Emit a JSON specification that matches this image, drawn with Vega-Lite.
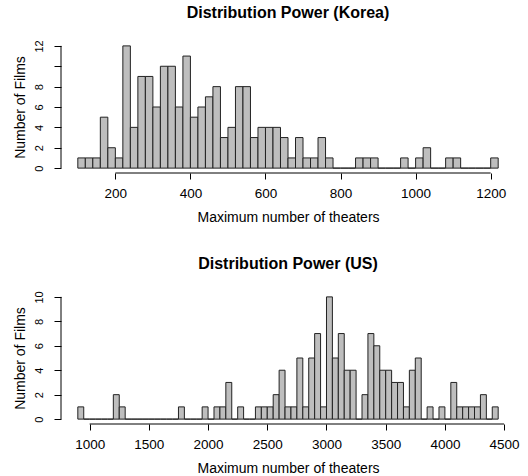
{
  "$schema": "https://vega.github.io/schema/vega-lite/v6.json",
  "padding": {"left": 12, "top": 4, "right": 0, "bottom": 0},
  "bounds": "flush",
  "spacing": 119,
  "background": "white",
  "datasets": {
    "korea": [
      {"bin_start": 100, "bin_end": 120, "count": 1},
      {"bin_start": 120, "bin_end": 140, "count": 1},
      {"bin_start": 140, "bin_end": 160, "count": 1},
      {"bin_start": 160, "bin_end": 180, "count": 5},
      {"bin_start": 180, "bin_end": 200, "count": 2},
      {"bin_start": 200, "bin_end": 220, "count": 1},
      {"bin_start": 220, "bin_end": 240, "count": 12},
      {"bin_start": 240, "bin_end": 260, "count": 4},
      {"bin_start": 260, "bin_end": 280, "count": 9},
      {"bin_start": 280, "bin_end": 300, "count": 9},
      {"bin_start": 300, "bin_end": 320, "count": 6},
      {"bin_start": 320, "bin_end": 340, "count": 10},
      {"bin_start": 340, "bin_end": 360, "count": 10},
      {"bin_start": 360, "bin_end": 380, "count": 6},
      {"bin_start": 380, "bin_end": 400, "count": 11},
      {"bin_start": 400, "bin_end": 420, "count": 5},
      {"bin_start": 420, "bin_end": 440, "count": 6},
      {"bin_start": 440, "bin_end": 460, "count": 7},
      {"bin_start": 460, "bin_end": 480, "count": 8},
      {"bin_start": 480, "bin_end": 500, "count": 3},
      {"bin_start": 500, "bin_end": 520, "count": 4},
      {"bin_start": 520, "bin_end": 540, "count": 8},
      {"bin_start": 540, "bin_end": 560, "count": 8},
      {"bin_start": 560, "bin_end": 580, "count": 3},
      {"bin_start": 580, "bin_end": 600, "count": 4},
      {"bin_start": 600, "bin_end": 620, "count": 4},
      {"bin_start": 620, "bin_end": 640, "count": 4},
      {"bin_start": 640, "bin_end": 660, "count": 3},
      {"bin_start": 660, "bin_end": 680, "count": 1},
      {"bin_start": 680, "bin_end": 700, "count": 3},
      {"bin_start": 700, "bin_end": 720, "count": 1},
      {"bin_start": 720, "bin_end": 740, "count": 1},
      {"bin_start": 740, "bin_end": 760, "count": 3},
      {"bin_start": 760, "bin_end": 780, "count": 1},
      {"bin_start": 780, "bin_end": 800, "count": 0},
      {"bin_start": 800, "bin_end": 820, "count": 0},
      {"bin_start": 820, "bin_end": 840, "count": 0},
      {"bin_start": 840, "bin_end": 860, "count": 1},
      {"bin_start": 860, "bin_end": 880, "count": 1},
      {"bin_start": 880, "bin_end": 900, "count": 1},
      {"bin_start": 900, "bin_end": 920, "count": 0},
      {"bin_start": 920, "bin_end": 940, "count": 0},
      {"bin_start": 940, "bin_end": 960, "count": 0},
      {"bin_start": 960, "bin_end": 980, "count": 1},
      {"bin_start": 980, "bin_end": 1000, "count": 0},
      {"bin_start": 1000, "bin_end": 1020, "count": 1},
      {"bin_start": 1020, "bin_end": 1040, "count": 2},
      {"bin_start": 1040, "bin_end": 1060, "count": 0},
      {"bin_start": 1060, "bin_end": 1080, "count": 0},
      {"bin_start": 1080, "bin_end": 1100, "count": 1},
      {"bin_start": 1100, "bin_end": 1120, "count": 1},
      {"bin_start": 1120, "bin_end": 1140, "count": 0},
      {"bin_start": 1140, "bin_end": 1160, "count": 0},
      {"bin_start": 1160, "bin_end": 1180, "count": 0},
      {"bin_start": 1180, "bin_end": 1200, "count": 0},
      {"bin_start": 1200, "bin_end": 1220, "count": 1}
    ],
    "us": [
      {"bin_start": 900, "bin_end": 950, "count": 1},
      {"bin_start": 950, "bin_end": 1000, "count": 0},
      {"bin_start": 1000, "bin_end": 1050, "count": 0},
      {"bin_start": 1050, "bin_end": 1100, "count": 0},
      {"bin_start": 1100, "bin_end": 1150, "count": 0},
      {"bin_start": 1150, "bin_end": 1200, "count": 0},
      {"bin_start": 1200, "bin_end": 1250, "count": 2},
      {"bin_start": 1250, "bin_end": 1300, "count": 1},
      {"bin_start": 1300, "bin_end": 1350, "count": 0},
      {"bin_start": 1350, "bin_end": 1400, "count": 0},
      {"bin_start": 1400, "bin_end": 1450, "count": 0},
      {"bin_start": 1450, "bin_end": 1500, "count": 0},
      {"bin_start": 1500, "bin_end": 1550, "count": 0},
      {"bin_start": 1550, "bin_end": 1600, "count": 0},
      {"bin_start": 1600, "bin_end": 1650, "count": 0},
      {"bin_start": 1650, "bin_end": 1700, "count": 0},
      {"bin_start": 1700, "bin_end": 1750, "count": 0},
      {"bin_start": 1750, "bin_end": 1800, "count": 1},
      {"bin_start": 1800, "bin_end": 1850, "count": 0},
      {"bin_start": 1850, "bin_end": 1900, "count": 0},
      {"bin_start": 1900, "bin_end": 1950, "count": 0},
      {"bin_start": 1950, "bin_end": 2000, "count": 1},
      {"bin_start": 2000, "bin_end": 2050, "count": 0},
      {"bin_start": 2050, "bin_end": 2100, "count": 1},
      {"bin_start": 2100, "bin_end": 2150, "count": 1},
      {"bin_start": 2150, "bin_end": 2200, "count": 3},
      {"bin_start": 2200, "bin_end": 2250, "count": 0},
      {"bin_start": 2250, "bin_end": 2300, "count": 1},
      {"bin_start": 2300, "bin_end": 2350, "count": 0},
      {"bin_start": 2350, "bin_end": 2400, "count": 0},
      {"bin_start": 2400, "bin_end": 2450, "count": 1},
      {"bin_start": 2450, "bin_end": 2500, "count": 1},
      {"bin_start": 2500, "bin_end": 2550, "count": 1},
      {"bin_start": 2550, "bin_end": 2600, "count": 2},
      {"bin_start": 2600, "bin_end": 2650, "count": 4},
      {"bin_start": 2650, "bin_end": 2700, "count": 1},
      {"bin_start": 2700, "bin_end": 2750, "count": 1},
      {"bin_start": 2750, "bin_end": 2800, "count": 5},
      {"bin_start": 2800, "bin_end": 2850, "count": 1},
      {"bin_start": 2850, "bin_end": 2900, "count": 5},
      {"bin_start": 2900, "bin_end": 2950, "count": 7},
      {"bin_start": 2950, "bin_end": 3000, "count": 1},
      {"bin_start": 3000, "bin_end": 3050, "count": 10},
      {"bin_start": 3050, "bin_end": 3100, "count": 5},
      {"bin_start": 3100, "bin_end": 3150, "count": 7},
      {"bin_start": 3150, "bin_end": 3200, "count": 4},
      {"bin_start": 3200, "bin_end": 3250, "count": 4},
      {"bin_start": 3250, "bin_end": 3300, "count": 0},
      {"bin_start": 3300, "bin_end": 3350, "count": 2},
      {"bin_start": 3350, "bin_end": 3400, "count": 7},
      {"bin_start": 3400, "bin_end": 3450, "count": 6},
      {"bin_start": 3450, "bin_end": 3500, "count": 4},
      {"bin_start": 3500, "bin_end": 3550, "count": 4},
      {"bin_start": 3550, "bin_end": 3600, "count": 3},
      {"bin_start": 3600, "bin_end": 3650, "count": 3},
      {"bin_start": 3650, "bin_end": 3700, "count": 1},
      {"bin_start": 3700, "bin_end": 3750, "count": 4},
      {"bin_start": 3750, "bin_end": 3800, "count": 5},
      {"bin_start": 3800, "bin_end": 3850, "count": 0},
      {"bin_start": 3850, "bin_end": 3900, "count": 1},
      {"bin_start": 3900, "bin_end": 3950, "count": 0},
      {"bin_start": 3950, "bin_end": 4000, "count": 1},
      {"bin_start": 4000, "bin_end": 4050, "count": 0},
      {"bin_start": 4050, "bin_end": 4100, "count": 3},
      {"bin_start": 4100, "bin_end": 4150, "count": 1},
      {"bin_start": 4150, "bin_end": 4200, "count": 1},
      {"bin_start": 4200, "bin_end": 4250, "count": 1},
      {"bin_start": 4250, "bin_end": 4300, "count": 1},
      {"bin_start": 4300, "bin_end": 4350, "count": 2},
      {"bin_start": 4350, "bin_end": 4400, "count": 0},
      {"bin_start": 4400, "bin_end": 4450, "count": 1}
    ]
  },
  "config": {
    "view": {"stroke": null},
    "font": "Liberation Sans",
    "axis": {
      "grid": false,
      "domain": false,
      "tickColor": "#000",
      "tickWidth": 1,
      "labelColor": "#000",
      "titleColor": "#000",
      "labelFont": "Liberation Sans",
      "titleFont": "Liberation Sans",
      "titleFontWeight": "normal",
      "labelOverlap": false,
      "labelFlush": false,
      "format": "d"
    },
    "axisX": {
      "tickSize": 6,
      "labelPadding": 18,
      "labelBaseline": "alphabetic",
      "labelFontSize": 13.5,
      "titleFontSize": 14,
      "titleY": 48.5,
      "titleBaseline": "alphabetic"
    },
    "axisY": {
      "tickSize": 7,
      "labelAngle": -90,
      "labelAlign": "center",
      "labelBaseline": "alphabetic",
      "labelPadding": 11.5,
      "labelFontSize": 11,
      "labelSeparation": 0,
      "titleFontSize": 14,
      "titleX": -37,
      "titleBaseline": "alphabetic"
    },
    "title": {
      "font": "Liberation Sans",
      "fontSize": 16,
      "fontWeight": "bold",
      "color": "#000",
      "anchor": "middle",
      "frame": "group",
      "baseline": "alphabetic",
      "offset": 19
    }
  },
  "vconcat": [
    {
      "title": "Distribution Power (Korea)",
      "width": 454,
      "height": 132,
      "layer": [
        {
          "data": {"name": "korea"},
          "mark": {"type": "bar", "fill": "#bebebe", "stroke": "#222", "strokeWidth": 1},
          "encoding": {
            "x": {
              "field": "bin_start", "type": "quantitative",
              "scale": {"domain": [55.2, 1264.8], "nice": false, "zero": false},
              "axis": {"values": [200, 400, 600, 800, 1000, 1200], "format": "d", "labelOverlap": false, "title": "Maximum number of theaters"}
            },
            "x2": {"field": "bin_end"},
            "y": {
              "field": "count", "type": "quantitative",
              "scale": {"domain": [-0.48, 12.48], "nice": false, "zero": false},
              "axis": {"values": [0, 2, 4, 6, 8, 10, 12], "format": "d", "labelOverlap": false, "labelAngle": -90, "labelExpr": "datum.value == 10 ? '' : datum.label", "title": "Number of Films"}
            },
            "y2": {"datum": 0}
          }
        },
        {
          "data": {"values": [{}]},
          "mark": {"type": "rule", "color": "#000", "strokeWidth": 1},
          "encoding": {
            "x": {"datum": 200, "type": "quantitative", "scale": {"domain": [55.2, 1264.8], "nice": false, "zero": false},
              "axis": {"values": [200, 400, 600, 800, 1000, 1200], "format": "d", "labelOverlap": false, "title": "Maximum number of theaters"}},
            "x2": {"datum": 1200},
            "y": {"datum": -0.48, "type": "quantitative", "scale": {"domain": [-0.48, 12.48], "nice": false, "zero": false},
              "axis": {"values": [0, 2, 4, 6, 8, 10, 12], "format": "d", "labelOverlap": false, "labelAngle": -90, "labelExpr": "datum.value == 10 ? '' : datum.label", "title": "Number of Films"}}
          }
        },
        {
          "data": {"values": [{}]},
          "mark": {"type": "rule", "color": "#000", "strokeWidth": 1},
          "encoding": {
            "x": {"datum": 55.2, "type": "quantitative", "scale": {"domain": [55.2, 1264.8], "nice": false, "zero": false},
              "axis": {"values": [200, 400, 600, 800, 1000, 1200], "format": "d", "labelOverlap": false, "title": "Maximum number of theaters"}},
            "y": {"datum": 0, "type": "quantitative", "scale": {"domain": [-0.48, 12.48], "nice": false, "zero": false},
              "axis": {"values": [0, 2, 4, 6, 8, 10, 12], "format": "d", "labelOverlap": false, "labelAngle": -90, "labelExpr": "datum.value == 10 ? '' : datum.label", "title": "Number of Films"}},
            "y2": {"datum": 12}
          }
        }
      ]
    },
    {
      "title": "Distribution Power (US)",
      "width": 454,
      "height": 132,
      "layer": [
        {
          "data": {"name": "us"},
          "mark": {"type": "bar", "fill": "#bebebe", "stroke": "#222", "strokeWidth": 1},
          "encoding": {
            "x": {
              "field": "bin_start", "type": "quantitative",
              "scale": {"domain": [758, 4592], "nice": false, "zero": false},
              "axis": {"values": [1000, 1500, 2000, 2500, 3000, 3500, 4000, 4500], "format": "d", "labelOverlap": false, "title": "Maximum number of theaters"}
            },
            "x2": {"field": "bin_end"},
            "y": {
              "field": "count", "type": "quantitative",
              "scale": {"domain": [-0.4, 10.4], "nice": false, "zero": false},
              "axis": {"values": [0, 2, 4, 6, 8, 10], "format": "d", "labelOverlap": false, "labelAngle": -90, "title": "Number of Films"}
            },
            "y2": {"datum": 0}
          }
        },
        {
          "data": {"values": [{}]},
          "mark": {"type": "rule", "color": "#000", "strokeWidth": 1},
          "encoding": {
            "x": {"datum": 1000, "type": "quantitative", "scale": {"domain": [758, 4592], "nice": false, "zero": false},
              "axis": {"values": [1000, 1500, 2000, 2500, 3000, 3500, 4000, 4500], "format": "d", "labelOverlap": false, "title": "Maximum number of theaters"}},
            "x2": {"datum": 4500},
            "y": {"datum": -0.4, "type": "quantitative", "scale": {"domain": [-0.4, 10.4], "nice": false, "zero": false},
              "axis": {"values": [0, 2, 4, 6, 8, 10], "format": "d", "labelOverlap": false, "labelAngle": -90, "title": "Number of Films"}}
          }
        },
        {
          "data": {"values": [{}]},
          "mark": {"type": "rule", "color": "#000", "strokeWidth": 1},
          "encoding": {
            "x": {"datum": 758, "type": "quantitative", "scale": {"domain": [758, 4592], "nice": false, "zero": false},
              "axis": {"values": [1000, 1500, 2000, 2500, 3000, 3500, 4000, 4500], "format": "d", "labelOverlap": false, "title": "Maximum number of theaters"}},
            "y": {"datum": 0, "type": "quantitative", "scale": {"domain": [-0.4, 10.4], "nice": false, "zero": false},
              "axis": {"values": [0, 2, 4, 6, 8, 10], "format": "d", "labelOverlap": false, "labelAngle": -90, "title": "Number of Films"}},
            "y2": {"datum": 10}
          }
        }
      ]
    }
  ]
}
